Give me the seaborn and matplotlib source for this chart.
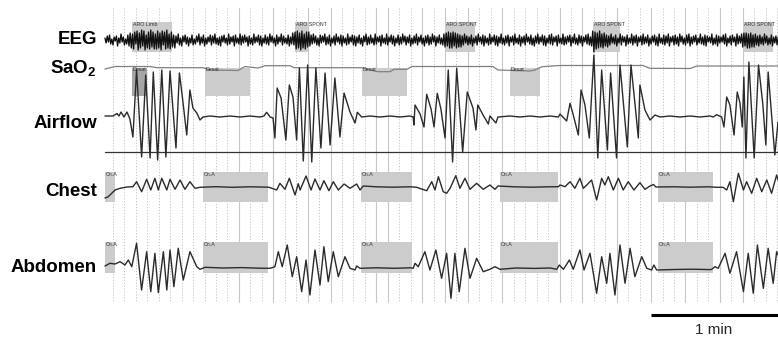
import numpy as np
import pandas as pd
import seaborn as sns
import matplotlib.pyplot as plt
from matplotlib.patches import Rectangle

# time in seconds from the first grid line, deflections in display units (up = positive)
eeg_t0 = -3.5
eeg_dt = 0.5
eeg = [
    2, -3, 4, -2, 5, -4, 1, -5, 3, -1, 4, -6, 2, -3, 6, -2, 3, -5, 1, -4,
    5, -6, 7, -8, 6, -9, 8, -4, 9, -10, 7, -8, 10, -6, 9, -10, 5, -8, 8, -9,
    10, -7, 8, -9, 6, -9, 9, -8, 7, -10, 9, -5, 8, -9, 10, -8, 6, -9, 8, -7,
    5, -8, 4, -3, 6, -5, 2, -6, 4, -2, 5, -4, 3, -6, 2, -3, 5, -5, 1, -4,
    4, -2, 6, -5, 3, -3, 5, -6, 2, -4, 3, -2, 5, -5, 4, -3, 6, -4, 2, -5,
    3, -6, 4, -2, 5, -3, 2, -5, 6, -4, 3, -2, 4, -6, 5, -3, 2, -4, 6, -5,
    4, -3, 5, -2, 3, -6, 4, -4, 2, -5, 6, -3, 3, -2, 5, -5, 4, -6, 2, -3,
    5, -4, 3, -5, 6, -2, 4, -3, 2, -6, 5, -4, 3, -2, 6, -5, 4, -3, 2, -4,
    5, -6, 3, -4, 7, -5, 8, -9, 9, -8, 7, -10, 9, -8, 6, -9, 8, -7, 8, -6,
    5, -4, 6, -3, 4, -5, 2, -6, 5, -3, 4, -2, 6, -5, 3, -4, 5, -6, 2, -3,
    4, -5, 6, -2, 3, -4, 5, -6, 4, -3, 2, -5, 6, -4, 3, -2, 5, -5, 4, -6,
    3, -3, 5, -4, 2, -6, 4, -2, 6, -5, 3, -4, 5, -3, 2, -5, 6, -4, 3, -2,
    4, -6, 5, -3, 2, -4, 6, -5, 3, -2, 5, -4, 4, -6, 2, -3, 5, -5, 3, -4,
    6, -2, 4, -5, 3, -3, 5, -6, 2, -4, 4, -3, 6, -5, 3, -2, 5, -4, 2, -6,
    4, -3, 5, -5, 3, -4, 6, -2, 4, -6, 3, -3, 5, -4, 2, -5, 6, -7, 7, -6,
    8, -8, 7, -8, 8, -6, 7, -8, 6, -7, 5, -7, 4, -5, 6, -3, 4, -5, 3, -4,
    5, -6, 2, -3, 4, -5, 6, -2, 3, -4, 5, -6, 4, -3, 2, -5, 6, -4, 3, -2,
    5, -5, 4, -6, 3, -3, 6, -4, 2, -5, 4, -3, 5, -6, 3, -2, 4, -5, 6, -3,
    2, -4, 5, -6, 3, -3, 4, -5, 6, -2, 3, -4, 5, -5, 2, -6, 4, -3, 6, -4,
    3, -2, 5, -5, 4, -6, 2, -3, 5, -4, 6, -5, 3, -2, 4, -6, 5, -3, 2, -4,
    6, -5, 3, -4, 4, -2, 5, -6, 3, -3, 6, -4, 2, -5, 5, -3, 4, -6, 3, -2,
    5, -4, 6, -5, 3, -6, 9, -12, 8, -9, 7, -8, 9, -7, 6, -8, 7, -6, 5, -7,
    4, -5, 6, -3, 3, -4, 5, -6, 2, -3, 6, -5, 4, -2, 3, -6, 5, -4, 2, -3,
    6, -5, 4, -3, 5, -6, 3, -2, 4, -5, 6, -4, 3, -3, 5, -6, 2, -4, 4, -2,
    5, -5, 3, -6, 6, -3, 2, -4, 5, -5, 4, -3, 6, -6, 3, -2, 4, -5, 5, -4,
    3, -6, 6, -2, 4, -4, 2, -5, 5, -3, 6, -6, 3, -4, 4, -2, 5, -5, 2, -3,
    6, -4, 3, -5, 5, -6, 4, -2, 3, -3, 6, -5, 2, -4, 5, -6, 4, -3, 3, -2,
    5, -4, 6, -6, 2, -3, 4, -5, 5, -2, 3, -6, 6, -4, 4, -3, 6, -7, 7, -6,
    7, -8, 6, -8, 7, -7, 5, -7, 6, -5, 4, -6, 5, -4, 3, -5, 6, -3, 4, -5,
    2, -4, 5, -6, 3, -3, 4, -5, 3,
]

sao2_t = [-3.5, 0.9, 16.2, 19.2, 39.3, 42.4, 54.6, 57.6, 63.3, 66.4, 77.3, 79.0,
          108.7, 112.2, 115.7, 121.0, 122.7, 128.4, 130.6, 165.9, 168.1, 182.1,
          184.3, 187.3, 195.2, 231.4, 234.5, 252.0, 255.0, 290.4]
sao2 = [93, 95.5, 95.5, 94.3, 94.3, 92, 91.5, 95.5, 94, 96.3, 96.3, 94.3,
        94.3, 92, 90.3, 90.3, 92.7, 92.7, 95.5, 95.5, 92, 91,
        92, 95.3, 96.5, 96.5, 93.7, 93.5, 96, 96]

air_t = [-3.5, 0, 1.75, 2.6, 3.5, 4.8, 6.1, 7.4, 8.7, 10.3, 12.5, 14.3, 16.2, 17.6,
         19.5, 21.3, 23.1, 24.9, 27.5, 29.0, 30.3, 32.2, 33.6, 34.9, 36.6, 38.0,
         39.3, 42.4, 46.7, 51.1, 55.5, 59.8, 64.2, 65.9,
         67.1, 68.6, 69.9, 70.7, 71.7, 73.4, 75.5, 77.0, 78.6, 80.2, 81.4, 83.1,
         85.0, 86.8, 88.6, 90.8, 92.6, 94.8, 96.9, 99.1, 100.9, 103.5, 105.7,
         106.7, 108.6, 112.2, 116.6, 121.0, 125.3, 129.7,
         131.1, 131.4, 131.9, 134.1, 135.8, 137.0, 138.9, 140.2, 141.6, 143.2,
         145.0, 146.4, 148.3, 150.1, 152.7, 154.7, 157.2, 158.5, 159.3, 161.6,
         163.9, 164.6, 167.2, 168.1, 173.4, 177.7, 182.1, 186.5, 190.8, 194.5,
         195.2, 198.1, 199.6, 201.0, 203.2, 204.4, 206.1, 208.0, 209.0, 210.0,
         211.7, 213.4, 215.9, 217.3, 219.9, 221.4, 224.6, 226.2, 228.0, 229.4,
         230.1, 232.3, 234.5, 236.7, 238.9, 243.2, 247.6, 252.0, 256.3, 260.7,
         262.1, 263.6, 265.8, 266.8, 268.0, 269.4, 271.2, 272.6, 273.8, 274.8,
         275.5, 276.4, 277.7, 280.0, 281.9, 283.8, 285.1, 286.1, 289.0, 290.4]
airflow = [1, 1, 3.5, 1, 5, 0, 5, -2, -20, 47, -40, 42, -41, 45,
           -43, 47, -40, 46, -31, 44, 20, -18, 27, 9, 4, -3,
           0, 1, 0, 1, 0, 1, 0, 1,
           4.7, 0, -1, -21, 29, 19, -23, 32, 20, -23, 49, -44,
           52, -45, 49, -31, 44, -28, 39, -20, 24, 5, -6,
           4.7, 0, 1, 0, 1, 0, 1,
           0, -8, 12, 3, -10, 22.7, 8, -10, 23.7, 8,
           -21, 47, -45, 48.7, -35, 25, 9, -13, 12, 2,
           -7, 1, -6, 0, 1, 0, 1, 0, 1, 0,
           3, -4, 13.7, 2, -18, 27, 12, -21, 22, 62,
           -41, 47, -33, 44, -41, 52, -30, 52, 12, -21,
           32, 7, -3, 2, 0, 1, 0, 1, 0, 1,
           0, 2.3, 0, -10, 20, 12, -18, 25, 14, -10,
           40, -41, 55, -41, 52, 12, -28, 45, -38, -5]

chest_t = [-3.5, -2.2, 0.9, 3.1, 6.1, 8.7, 10.3, 12.5, 14.7, 16.5, 18.3, 19.8, 21.3,
           23.5, 24.9, 27.1, 29.3, 31.4, 33.6, 35.8, 38.0, 45, 52, 60, 68,
           71.5, 72.9, 75.1, 77.0, 79.5, 80.9, 81.7, 84.3, 86.5, 88.2, 90.4, 92.1,
           94.3, 96.2, 98.4, 100.9, 103.5, 106.4, 107.9, 109.3, 115, 122, 130,
           132.6, 137.0, 139.2, 140.6, 142.1, 144.2, 145.7, 147.2, 149.7, 151.5,
           153.7, 155.9, 158.8, 161.7, 164.6, 166.8, 168.1, 175, 183, 190,
           194.5, 195.2, 197.4, 199.6, 201.7, 203.9, 205.4, 206.9, 209.0, 211.2,
           213.4, 214.8, 216.3, 218.5, 220.7, 222.8, 225.0, 227.5, 230.1, 232.3,
           234.5, 236.0, 237.1, 245, 252, 260,
           263.8, 266.4, 268.0, 269.4, 270.9, 273.1, 275.3, 276.7, 278.9, 281.1,
           283.3, 285.5, 287.6, 289.8, 290.4]
chest = [-11, -10, -3, -1.3, 0, 0.3, 5.3, -4.7, 7.7, -3, 8.7, -3, 8.7,
         -3, 7.7, -2.3, 7, -2.3, 5.3, -1.3, -0.3, 0.3, -0.3, 0.2, -0.2,
         -3, 3.7, -2.3, 8.7, -8, 3.3, -3, 11, -3, 8, -3, 6.3,
         -3.7, 5.3, -3, 3, -1.3, 3, -3, 1, 0.2, -0.2, 0.2,
         -0.3, -3.7, 5.3, -3, 10.3, -4.7, -6.3, -1.3, 11.3, -1.3,
         8.7, -2.3, 3.7, -2.3, 2, -2.3, 1, 0.2, -0.2, 0.2,
         0.3, 2, 0.3, 5.3, -1.3, 8.7, -1.3, 2, 7, -13,
         8.7, 2, 10.3, -3, 8.7, -3, 5.3, -3, 4.3, -2.3,
         1, 2.5, 0, 0.2, -0.2, 0.2,
         -0.3, -0.3, -3, 5.3, -14.7, 13.7, -3, 5.3, -6.3, 8.7,
         -4.7, 7, -6.3, 12, 7]

abd_t = [-3.5, -1.3, 0.9, 3.1, 5.2, 6.7, 8.2, 10.3, 12.5, 14.7, 16.5, 18.3, 19.8,
         22.0, 23.5, 24.9, 26.6, 28.5, 30.7, 33.6, 36.6, 38.0, 40.2, 48, 56, 64,
         68.6, 70.7, 72.2, 73.9, 76.1, 78.3, 80.2, 82.4, 84.3, 86.0, 88.2, 90.4,
         92.1, 94.0, 96.2, 98.4, 101.3, 103.5, 105.7, 106.4, 107.9, 115, 123, 130,
         131.1, 131.9, 133.3, 136.2, 138.4, 141.0, 143.5, 145.7, 147.6, 149.3,
         151.2, 153.7, 155.9, 158.8, 161.7, 164.6, 166.8, 169.0, 176, 184, 191,
         193.8, 194.9, 196.7, 199.3, 201.0, 203.9, 205.7, 208.3, 211.2, 213.4,
         215.6, 217.0, 219.2, 221.4, 223.6, 225.8, 227.9, 230.9, 233.1, 235.2,
         236.2, 237.4, 245, 253, 261,
         261.4, 262.9, 264.3, 267.3, 269.4, 272.3, 275.3, 277.4, 279.6, 281.4,
         284.0, 286.1, 288.3, 289.8, 290.4]
abdomen = [2, 4.7, 4, 6.3, 3, 8, 1.3, 24.7, -22, 16.3, -23.7, 14.7, -24.7,
           16.3, -22, 18, -18.7, 19.7, -12, 16.3, 1.3, -1.3, 0.7, 0, 0.4, -0.2,
           -0.3, 1.3, 16.3, 1.3, 23, -8.7, 11.3, -23.7, 8, -27, 18, -17,
           21.3, -13.7, 16.3, -8.7, 11.3, -0.3, -2, 2, -0.3, 0.2, -0.3, 0.2,
           -0.3, 4.7, 1.3, 16.3, -2, 18, -10.3, 14.7, -30.3, 14.7,
           -23.7, 19.7, -10.3, 9.7, -3.7, -1.3, 1.3, -1.3, 0, -0.4, 0,
           -1.3, 3, -1.3, 8, -1.3, 18, -2, 14.7, -25.3, 11.3,
           -15.3, 14.7, -27, 23, -15.3, 19.7, -8.7, 11.3, -0.3, -2,
           3, -2, -1.5, -1.2, -1.6,
           -1.3, 1.3, -0.3, 14.7, -5.3, 16.3, -23.7, 14.7, -25.3, 23,
           -20.3, 19.7, -15.3, 16.3, 13]

# scored events (start, end) in seconds
arousal_start = [8.3, 79.5, 145.0, 209.6, 275.1]
arousal_end = [25.8, 85.2, 158.0, 221.4, 288.2]
arousal_label = ['ARO Limb', 'ARO SPONT', 'ARO SPONT', 'ARO SPONT', 'ARO SPONT']
desat_start = [8.3, 40.2, 108.7, 173.4]
desat_end = [14.8, 59.8, 128.4, 186.5]
apnea_start = [-3.5, 39.3, 108.3, 169.0, 238.0]
apnea_end = [0.9, 67.7, 130.6, 194.3, 262.0]

channels = ['EEG', 'SaO$_\\mathbf{2}$', 'Airflow', 'Chest', 'Abdomen']
solid_grid = [11, 14, 17, 19, 23, 24, 27, 29, 31, 34, 39, 41, 44, 47, 50, 53, 55]

sns.set_style('white')
plt.rcParams['font.family'] = ['Liberation Sans', 'DejaVu Sans']
plt.rcParams['mathtext.fontset'] = 'custom'
plt.rcParams['mathtext.rm'] = 'Liberation Sans'
plt.rcParams['mathtext.bf'] = 'Liberation Sans:bold'

fig = plt.figure(figsize=(7.78, 3.44), dpi=100)
ax = fig.add_axes([0, 0, 1, 1])
ax.set_xlim(-49.34, 290.4)
ax.set_ylim(344, 0)
ax.axis('off')

# row baselines (screen units, y grows downward)
eeg_y, sao2_y, air_y, chest_y, abd_y = 40, 66, 117, 187, 268

# grid: a line every 5 s
for k in range(0, 59):
    if k in solid_grid:
        ax.plot([k * 5, k * 5], [8, 302], color='#c8c8c8', lw=0.8, zorder=1)
    else:
        ax.plot([k * 5, k * 5], [8, 302], color='#c4c4c4', lw=0.7,
                dashes=(1.2, 1.8), zorder=1)

box_col = '#cccccc'
for s, e, lab in zip(arousal_start, arousal_end, arousal_label):
    ax.add_patch(Rectangle((s, 22), e - s, 30, color=box_col, lw=0, zorder=2))
    ax.text(s + 0.4, 24.5, lab, fontsize=3.8, color='#333333', va='center', zorder=5)
for i, (s, e) in enumerate(zip(desat_start, desat_end)):
    ax.add_patch(Rectangle((s, 68), e - s, 28, color='#a6a6a6' if i == 0 else box_col,
                           lw=0, zorder=2))
    ax.text(s + 0.4, 69.5, 'Desat', fontsize=3.8, color='#333333', va='center', zorder=5)
for s, e in zip(apnea_start, apnea_end):
    ax.add_patch(Rectangle((s, 172), e - s, 30, color=box_col, lw=0, zorder=2))
    ax.add_patch(Rectangle((s, 242), e - s, 31, color=box_col, lw=0, zorder=2))
    ax.text(s + 0.4, 175, 'Cn.A', fontsize=3.8, color='#333333', va='center', zorder=5)
    ax.text(s + 0.4, 245, 'Cn.A', fontsize=3.8, color='#333333', va='center', zorder=5)

eeg_t = eeg_t0 + eeg_dt * np.arange(len(eeg))
traces = [
    (eeg_t, eeg_y - np.array(eeg), '#111111', 0.95),
    (np.array(sao2_t), sao2_y + (96 - np.array(sao2)), '#808080', 0.9),
    (np.array(air_t), air_y - np.array(airflow), '#2b2b2b', 1.0),
    (np.array(chest_t), chest_y - np.array(chest), '#2b2b2b', 1.0),
    (np.array(abd_t), abd_y - np.array(abdomen), '#2b2b2b', 1.0),
]
for x, y, c, lw in traces:
    df = pd.DataFrame({'t': x, 'v': y})
    sns.lineplot(data=df, x='t', y='v', ax=ax, color=c, linewidth=lw,
                 estimator=None, sort=False, zorder=4)

# airflow reference line
ax.plot([-3.5, 290.4], [151.7, 151.7], color='#333333', lw=0.9, zorder=3)

label_y = [40, 69, 123, 191, 268]
for name, ly in zip(channels, label_y):
    ax.text(-7.0, ly, name, ha='right', va='center', fontsize=13.5,
            fontweight='bold', color='black')

# 1 min scale bar
ax.plot([234.9, 290.4], [315, 315], color='black', lw=2.2, solid_capstyle='butt')
ax.text(262.4, 330, '1 min', ha='center', va='center', fontsize=11)

ax.set_xlabel('')
ax.set_ylabel('')
fig.savefig('out.png', dpi=100)
